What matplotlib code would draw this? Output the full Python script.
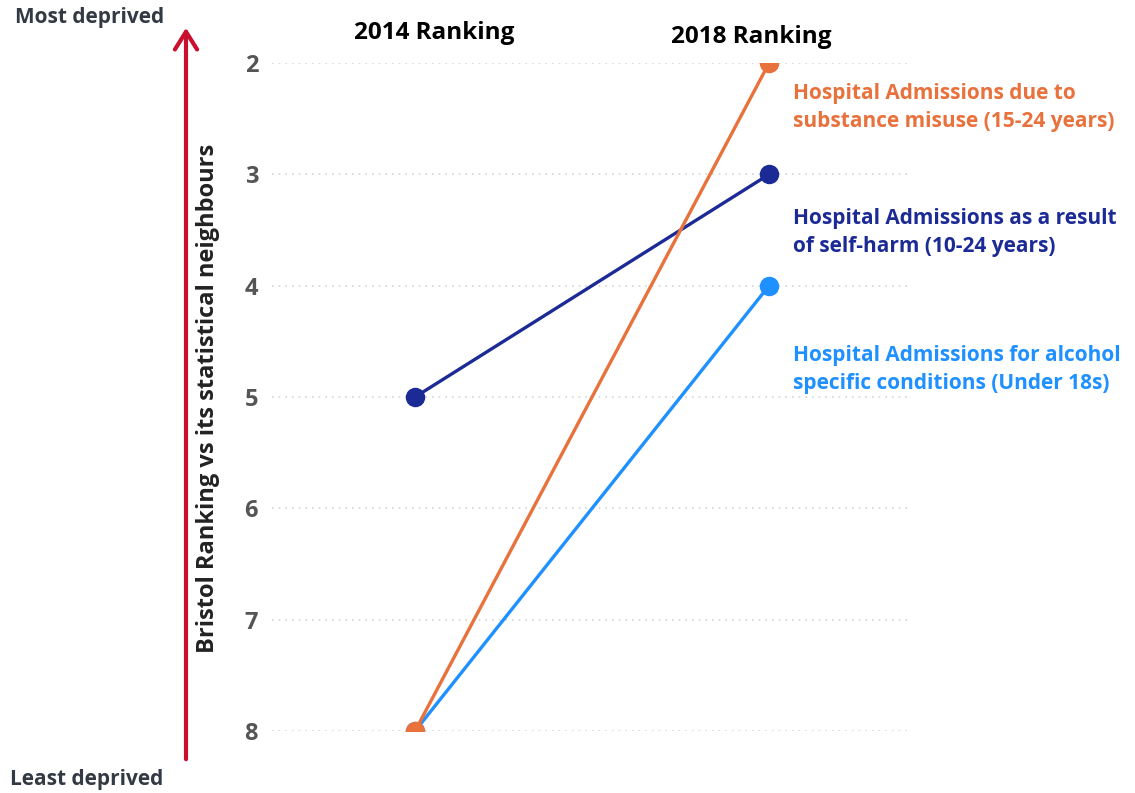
import matplotlib.pyplot as plt
from matplotlib.patches import FancyArrowPatch

plt.rcParams['font.family'] = ['Open Sans', 'DejaVu Sans']

years = ['2014 Ranking', '2018 Ranking']
indicators = ['Hospital Admissions due to\nsubstance misuse (15-24 years)',
              'Hospital Admissions as a result\nof self-harm (10-24 years)',
              'Hospital Admissions for alcohol\nspecific conditions (Under 18s)']
rank_2014 = [8, 5, 8]
rank_2018 = [2, 3, 4]
colors = ['#E8713C', '#1C2A96', '#1E90FF']
yticks = [2, 3, 4, 5, 6, 7, 8]

fig = plt.figure(figsize=(11.35, 7.93), dpi=100)
ax = fig.add_axes([272 / 1135, 1 - 731 / 793, (910 - 272) / 1135, (731 - 63) / 793])

for y in yticks:
    ax.axhline(y, color='#d4d4d4', lw=1.2, ls=(0, (1, 3)), zorder=0)

# blue and navy first, orange on top
order = [2, 1, 0]
for i in order:
    ax.plot([0, 1], [rank_2014[i], rank_2018[i]], color=colors[i], lw=2.4,
            marker='o', ms=13, zorder=3)

label_y = [2.40, 3.52, 4.75]
for i in range(3):
    ax.text(1.068, label_y[i], indicators[i], color=colors[i], fontsize=15,
            fontweight='bold', va='center', ha='left', linespacing=1.42,
            clip_on=False)

ax.set_xlim(-0.404, 1.398)
ax.set_ylim(8, 2)
ax.set_xticks([])
ax.set_yticks(yticks)
ax.set_yticklabels([str(t) for t in yticks], fontsize=17, fontweight='bold',
                   color='#555555')
ax.tick_params(axis='y', length=0, pad=10)
for s in ax.spines.values():
    s.set_visible(False)

# column headers
ax.text(0.055, 2 - 0.27, years[0], fontsize=17.5, fontweight='bold', ha='center',
        va='center', color='black', clip_on=False)
ax.text(0.95, 2 - 0.23, years[1], fontsize=17.5, fontweight='bold', ha='center',
        va='center', color='black', clip_on=False)

fig.text(208 / 1135, 1 - 398 / 793, 'Bristol Ranking vs its statistical neighbours',
         rotation=90, ha='center', va='center', fontsize=17, fontweight='bold',
         color='#222222')

# deprivation arrow
fig.patches.append(FancyArrowPatch(
    (186 / 1135, 1 - 762 / 793), (186 / 1135, 1 - 25 / 793),
    transform=fig.transFigure, arrowstyle='->,head_length=8,head_width=5',
    mutation_scale=1.6, color='#C8102E', lw=3))

fig.text(15 / 1135, 1 - 18 / 793, 'Most deprived', ha='left', va='center',
         fontsize=15, fontweight='bold', color='#333a44')
fig.text(10 / 1135, 1 - 780 / 793, 'Least deprived', ha='left', va='center',
         fontsize=15, fontweight='bold', color='#333a44')

fig.savefig('out.png', dpi=100)
